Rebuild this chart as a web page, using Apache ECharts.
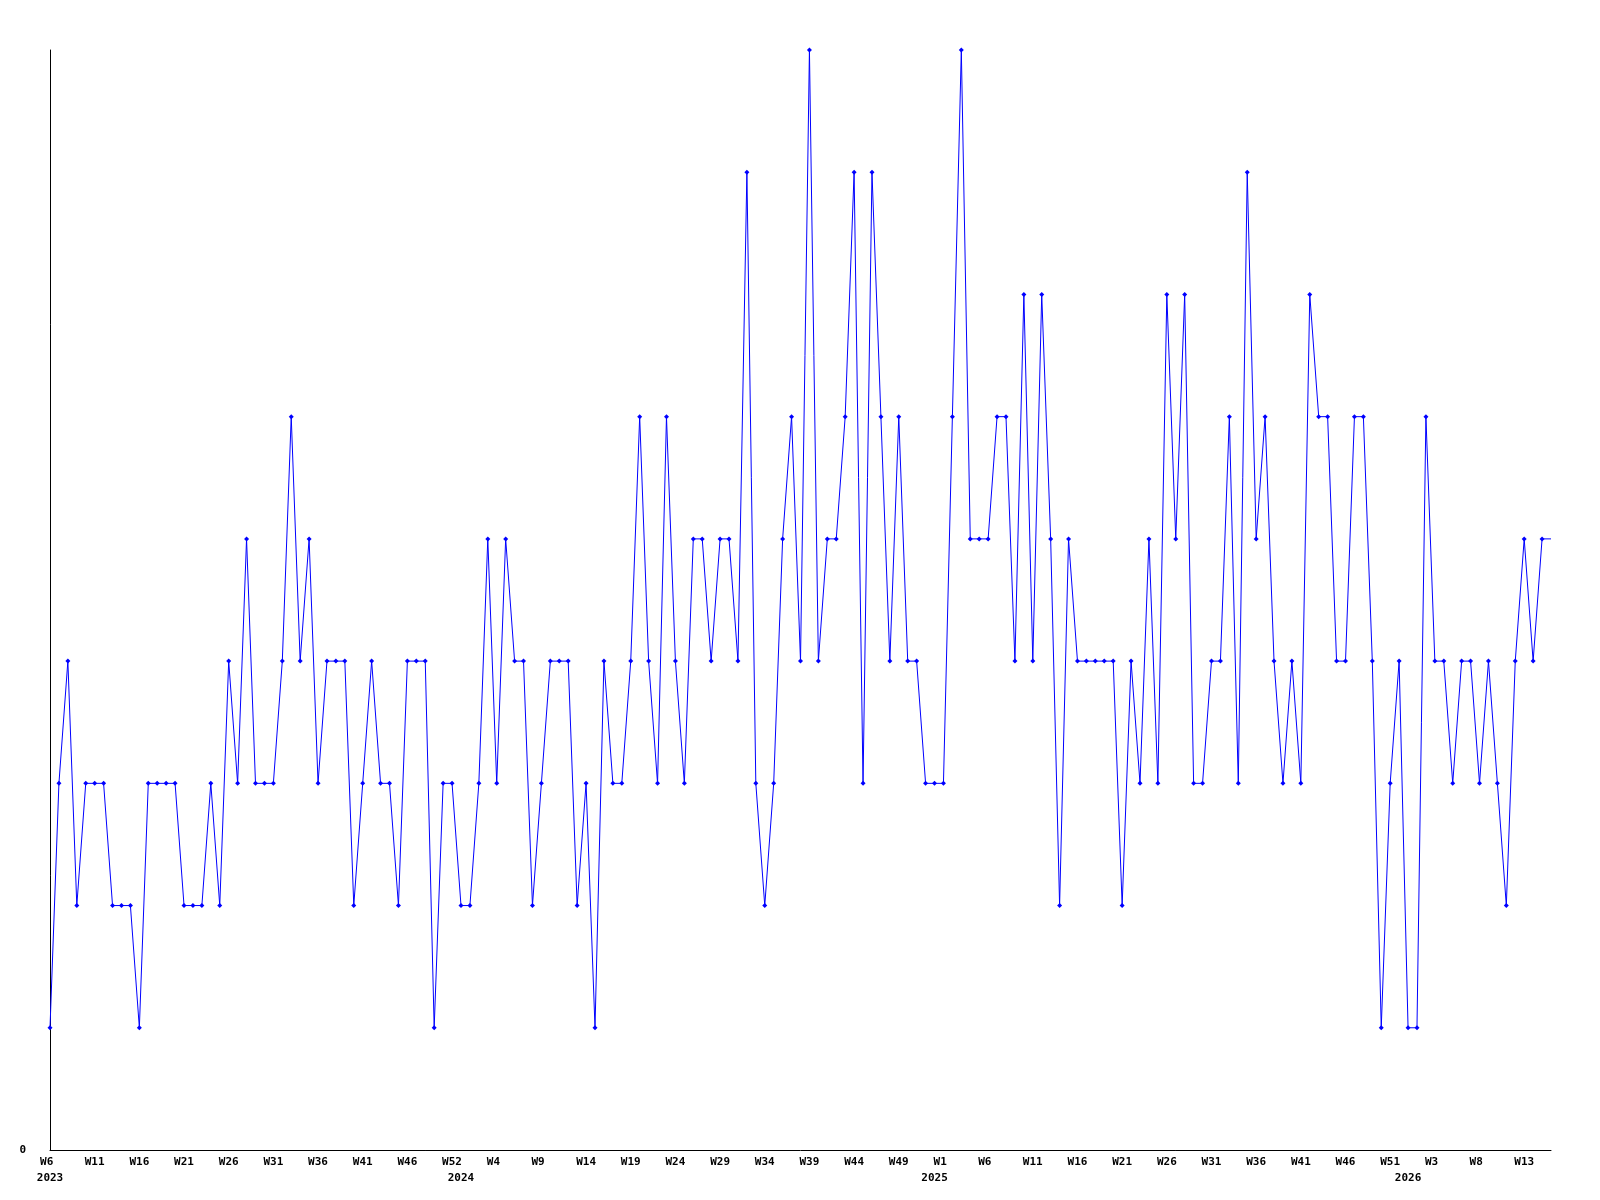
<!DOCTYPE html>
<html>
<head>
<meta charset="utf-8">
<script src="https://cdn.jsdelivr.net/npm/echarts@6/dist/echarts.min.js"></script>
<style>
html,body{margin:0;padding:0;background:#fff;}
#chart{width:1600px;height:1200px;}
</style>
</head>
<body>
<div id="chart"></div>
<script>
// Weekly values, 2023 W6 onward (one per week)
const values = [
  1,3,4,2,3,3,3,2,2,2,1,3,3,3,3,2,2,2,3,2,4,
  3,5,3,3,3,4,6,4,5,3,4,4,4,2,3,4,3,3,2,4,
  4,4,1,3,3,2,2,3,5,3,5,4,4,2,3,4,4,4,2,3,1,
  4,3,3,4,6,4,3,6,4,3,5,5,4,5,5,4,8,3,2,3,5,
  6,4,9,4,5,5,6,8,3,8,6,4,6,4,4,3,3,3,6,9,5,
  5,5,6,6,4,7,4,7,5,2,5,4,4,4,4,4,2,4,3,5,
  3,7,5,7,3,3,4,4,6,3,8,5,6,4,3,4,3,7,6,6,4,
  4,6,6,4,1,3,4,1,1,6,4,4,3,4,4,3,4,3,2,4,5,4,5
];
// partial (current) week, drawn without marker
const lastValue = 5;

// tick labels, one every 5 weeks
const tickLabels = ['W6','W11','W16','W21','W26','W31','W36','W41','W46','W52','W4','W9',
  'W14','W19','W24','W29','W34','W39','W44','W49','W1','W6','W11','W16','W21','W26',
  'W31','W36','W41','W46','W51','W3','W8','W13'];
const tickStep = 5;
// year labels and the week index they sit under
const yearLabels = ['2023','2024','2025','2026'];
const yearIndex = [0,46,99,152];

const n = values.length + 1;
const categories = Array.from({length:n}, (_, i) => String(i));
const seriesData = values.map(v => v).concat([{value:lastValue, symbol:'none'}]);

const font = {fontFamily:'DejaVu Sans Mono', fontWeight:'bold', fontSize:11, color:'#000'};

const chart = echarts.init(document.getElementById('chart'), null, {renderer:'canvas'});
chart.setOption({
  animation:false,
  backgroundColor:'#ffffff',
  grid:{left:50, right:49, top:50, bottom:50, containLabel:false},
  xAxis:[{
    type:'category', data:categories, boundaryGap:false,
    axisLine:{show:true, lineStyle:{color:'#000', width:1}},
    axisTick:{show:false}, splitLine:{show:false},
    axisLabel:Object.assign({
      interval:(i)=> i % tickStep === 0,
      formatter:(v, i)=> (i % tickStep === 0 && tickLabels[i/tickStep]) ? tickLabels[i/tickStep].padEnd(3, '\u00a0') : '',
      margin:7
    }, font)
  },{
    type:'category', data:categories, boundaryGap:false, position:'bottom',
    axisLine:{show:false}, axisTick:{show:false}, splitLine:{show:false},
    axisLabel:Object.assign({
      interval:(i)=> yearIndex.indexOf(i) >= 0,
      formatter:(v, i)=> { const k = yearIndex.indexOf(i); return k >= 0 ? yearLabels[k] : ''; },
      margin:23
    }, font)
  }],
  yAxis:{
    type:'value', min:0, max:9, interval:9,
    axisLine:{show:true, lineStyle:{color:'#000', width:1}},
    axisTick:{show:false}, splitLine:{show:false},
    axisLabel:Object.assign({
      formatter:(v)=> v === 0 ? '0' : '',
      margin:24
    }, font)
  },
  series:[{
    type:'line', xAxisIndex:0, data:seriesData,
    showAllSymbol:true, symbol:'diamond', symbolSize:5,
    lineStyle:{color:'#0000ff', width:1},
    itemStyle:{color:'#0000ff'},
    emphasis:{disabled:true}
  }]
});
</script>
</body>
</html>
